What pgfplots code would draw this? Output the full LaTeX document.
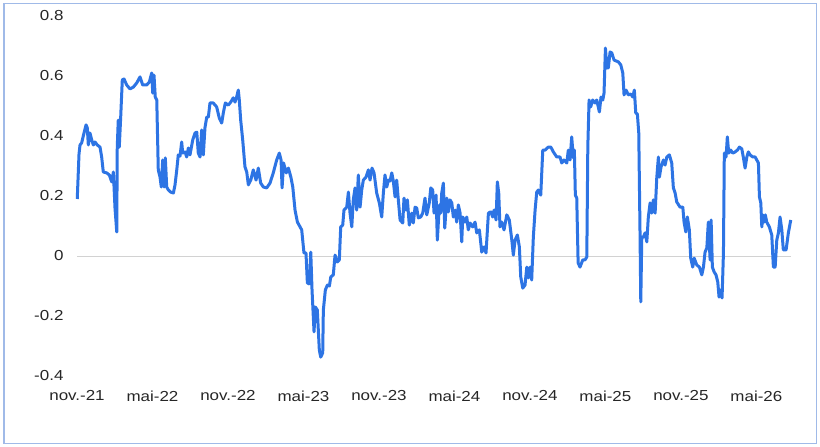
\documentclass[border=0pt]{standalone}
\usepackage{fontspec}
\setmainfont{Liberation Sans}[FakeStretch=1.17]
\usepackage{pgfplots}
\pgfplotsset{compat=1.18}
\definecolor{linecol}{RGB}{45,116,228}
\definecolor{framecol}{RGB}{160,186,232}
\definecolor{zerocol}{RGB}{210,210,210}
\begin{document}
\begin{tikzpicture}
\useasboundingbox (0,0) rectangle (820bp,447bp);
\fill[white] (0,0) rectangle (820bp,447bp);
\draw[framecol, line width=1.4bp] (3.8bp,3.5bp) rectangle (816.2bp,443.5bp);
\begin{axis}[
  scale only axis,
  width=714bp, height=360bp,
  at={(77bp,71bp)}, anchor=south west,
  xmin=0, xmax=56.75, ymin=-0.4, ymax=0.8,
  axis line style={draw=none},
  major tick length=0pt,
  xtick={0,6,12,18,24,30,36,42,48,54},
  xticklabels={nov.-21,mai-22,nov.-22,mai-23,nov.-23,mai-24,nov.-24,mai-25,nov.-25,mai-26},
  ytick={-0.4,-0.2,0,0.2,0.4,0.6,0.8},
  yticklabels={-0.4,-0.2,0,0.2,0.4,0.6,0.8},
  tick label style={font=\fontsize{14.5bp}{17bp}\selectfont, text=black!85},
  xticklabel style={yshift=-11bp},
  yticklabel style={xshift=-10bp},
  clip=false,
]
\draw[zerocol, line width=0.8bp] (axis cs:0,0) -- (axis cs:56.75,0);
\addplot[linecol, line width=3bp, line join=round, mark=none] coordinates {
(0.02,0.19) (0.16,0.34) (0.24,0.37) (0.37,0.377) (0.50,0.40) (0.72,0.437) (0.82,0.427) (0.90,0.37)
(1.03,0.41) (1.17,0.387) (1.30,0.37) (1.43,0.38) (1.61,0.37) (1.83,0.363) (1.96,0.33) (2.09,0.28)
(2.36,0.277) (2.57,0.27) (2.76,0.247) (2.89,0.28) (3.02,0.16) (3.16,0.08) (3.20,0.363) (3.28,0.453)
(3.36,0.363) (3.47,0.46) (3.60,0.587) (3.74,0.59) (3.95,0.57) (4.21,0.557) (4.48,0.563) (4.75,0.577)
(5.01,0.597) (5.22,0.57) (5.54,0.57) (5.75,0.58) (5.94,0.61) (6.02,0.543) (6.12,0.603) (6.22,0.53)
(6.34,0.52) (6.46,0.287) (6.60,0.263) (6.70,0.23) (6.81,0.32) (6.92,0.23) (7.02,0.327) (7.13,0.23)
(7.26,0.22) (7.45,0.213) (7.66,0.21) (7.79,0.237) (7.93,0.287) (8.05,0.337) (8.19,0.333) (8.32,0.38)
(8.40,0.343) (8.59,0.347) (8.72,0.33) (8.85,0.36) (8.98,0.337) (9.20,0.387) (9.38,0.41) (9.52,0.413)
(9.64,0.343) (9.78,0.33) (9.91,0.42) (10.04,0.337) (10.17,0.427) (10.31,0.463) (10.44,0.463) (10.57,0.51)
(10.83,0.51) (11.10,0.497) (11.31,0.46) (11.50,0.443) (11.63,0.477) (11.79,0.51) (12.03,0.503) (12.22,0.513)
(12.42,0.527) (12.56,0.513) (12.69,0.53) (12.82,0.553) (12.90,0.52) (13.01,0.453) (13.17,0.387) (13.35,0.297)
(13.49,0.28) (13.62,0.237) (13.81,0.253) (14.01,0.287) (14.23,0.253) (14.41,0.293) (14.60,0.243) (14.81,0.23)
(15.08,0.227) (15.34,0.243) (15.60,0.277) (15.87,0.32) (16.08,0.343) (16.22,0.32) (16.30,0.227) (16.42,0.31)
(16.63,0.277) (16.80,0.293) (17.00,0.263) (17.15,0.23) (17.33,0.153) (17.52,0.113) (17.73,0.097) (17.86,0.087)
(18.04,0.01) (18.20,0.01) (18.31,-0.09) (18.47,-0.093) (18.58,0.013) (18.68,-0.113) (18.84,-0.253) (18.94,-0.17)
(19.10,-0.18) (19.26,-0.313) (19.37,-0.337) (19.53,-0.323) (19.58,-0.18) (19.74,-0.113) (19.90,-0.097) (20.06,-0.1)
(20.17,-0.07) (20.37,-0.063) (20.51,0.003) (20.69,-0.02) (20.85,-0.013) (20.96,0.097) (21.12,0.103) (21.22,0.153)
(21.44,0.163) (21.57,0.213) (21.70,0.143) (21.84,0.097) (21.96,0.187) (22.10,0.227) (22.23,0.153) (22.36,0.27)
(22.50,0.163) (22.63,0.22) (22.76,0.253) (22.97,0.263) (23.16,0.287) (23.29,0.253) (23.45,0.293) (23.61,0.277)
(23.82,0.21) (24.03,0.177) (24.22,0.13) (24.35,0.21) (24.48,0.27) (24.62,0.23) (24.75,0.253) (24.88,0.25)
(25.02,0.277) (25.14,0.25) (25.28,0.197) (25.41,0.253) (25.54,0.187) (25.68,0.12) (25.89,0.11) (25.99,0.193)
(26.15,0.153) (26.26,0.187) (26.41,0.103) (26.61,0.143) (26.73,0.11) (26.87,0.163) (27.00,0.16) (27.13,0.127)
(27.32,0.13) (27.48,0.143) (27.66,0.193) (27.80,0.137) (28.00,0.177) (28.12,0.227) (28.27,0.22) (28.38,0.143)
(28.54,0.203) (28.64,0.053) (28.80,0.17) (28.91,0.143) (28.99,0.21) (29.12,0.243) (29.23,0.093) (29.39,0.193)
(29.52,0.147) (29.65,0.187) (29.79,0.177) (29.91,0.13) (30.05,0.153) (30.18,0.113) (30.31,0.17) (30.45,0.143)
(30.58,0.047) (30.66,0.13) (30.84,0.113) (30.98,0.13) (31.10,0.087) (31.24,0.11) (31.45,0.097) (31.64,0.113)
(31.77,0.077) (31.98,0.087) (32.17,0.013) (32.35,0.03) (32.51,0.01) (32.70,0.143) (32.89,0.147) (33.04,0.13)
(33.15,0.153) (33.31,0.12) (33.41,0.247) (33.52,0.21) (33.62,0.097) (33.76,0.113) (33.94,0.087) (34.16,0.137)
(34.36,0.12) (34.56,0.053) (34.68,0.003) (34.82,0.053) (35.00,0.07) (35.16,0.03) (35.27,-0.07) (35.43,-0.107)
(35.61,-0.097) (35.75,-0.037) (35.87,-0.073) (36.01,-0.037) (36.14,-0.08) (36.27,0.063) (36.41,0.153) (36.54,0.213)
(36.67,0.22) (36.86,0.203) (37.02,0.353) (37.20,0.353) (37.46,0.363) (37.66,0.363) (37.86,0.347) (38.13,0.33)
(38.39,0.33) (38.53,0.31) (38.71,0.32) (38.93,0.31) (39.05,0.353) (39.19,0.32) (39.32,0.397) (39.45,0.327)
(39.53,0.353) (39.61,0.203) (39.72,0.193) (39.83,-0.023) (39.98,-0.037) (40.20,-0.013) (40.38,-0.013) (40.52,-0.003)
(40.60,0.363) (40.70,0.52) (40.83,0.497) (40.99,0.52) (41.18,0.51) (41.31,0.52) (41.52,0.48) (41.65,0.53)
(41.79,0.52) (41.89,0.543) (42.00,0.693) (42.11,0.627) (42.23,0.627) (42.37,0.68) (42.50,0.677) (42.69,0.653)
(43.03,0.647) (43.22,0.637) (43.38,0.61) (43.48,0.537) (43.64,0.553) (43.82,0.537) (44.01,0.54) (44.17,0.53)
(44.30,0.553) (44.41,0.477) (44.54,0.473) (44.65,0.41) (44.75,0.077) (44.81,-0.153) (44.89,0.063) (45.02,0.063)
(45.15,0.077) (45.29,0.047) (45.41,0.13) (45.55,0.177) (45.68,0.143) (45.81,0.187) (45.95,0.143) (46.08,0.26)
(46.21,0.33) (46.29,0.263) (46.42,0.297) (46.61,0.32) (46.74,0.303) (46.88,0.33) (47.08,0.337) (47.27,0.31)
(47.40,0.227) (47.54,0.21) (47.67,0.18) (47.93,0.163) (48.15,0.163) (48.25,0.113) (48.39,0.08) (48.51,0.13)
(48.67,0.087) (48.78,-0.007) (48.94,-0.037) (49.05,-0.007) (49.26,-0.03) (49.47,-0.037) (49.66,-0.063) (49.79,-0.037)
(49.92,0.013) (50.06,0.027) (50.18,0.113) (50.32,-0.013) (50.40,0.12) (50.50,-0.037) (50.64,-0.053) (50.79,-0.063)
(50.93,-0.087) (51.03,-0.137) (51.17,-0.113) (51.27,-0.14) (51.38,0.01) (51.45,0.343) (51.59,0.33) (51.69,0.397)
(51.80,0.343) (51.96,0.353) (52.12,0.343) (52.31,0.347) (52.49,0.353) (52.65,0.363) (52.84,0.357) (52.97,0.327)
(53.10,0.293) (53.24,0.33) (53.36,0.347) (53.50,0.337) (53.71,0.33) (53.90,0.33) (54.03,0.32) (54.16,0.31)
(54.24,0.197) (54.35,0.177) (54.43,0.097) (54.51,0.137) (54.61,0.113) (54.71,0.137) (54.82,0.113) (55.03,0.097)
(55.22,0.07) (55.35,-0.037) (55.49,-0.037) (55.62,0.053) (55.75,0.077) (55.88,0.13) (56.02,0.087) (56.14,0.02)
(56.36,0.02) (56.54,0.077) (56.73,0.12)
};
\end{axis}
\end{tikzpicture}
\end{document}
